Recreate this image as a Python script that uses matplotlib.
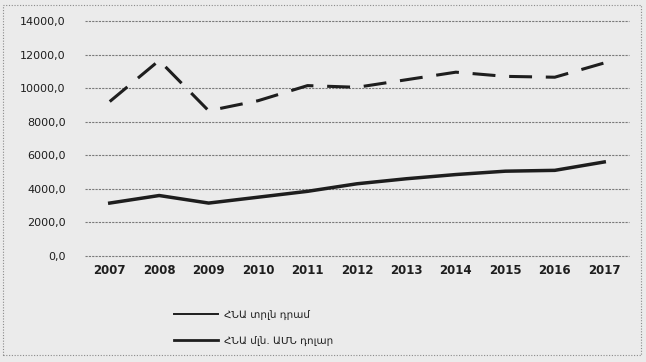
import matplotlib
matplotlib.use("Agg")
from matplotlib import pyplot as plt
from matplotlib.lines import Line2D
from matplotlib.patches import Rectangle
from matplotlib.ticker import FuncFormatter

# GDP series, 2007-2017
years = ["2007", "2008", "2009", "2010", "2011", "2012",
         "2013", "2014", "2015", "2016", "2017"]
gdp_usd = [9200, 11650, 8650, 9250, 10150, 10050, 10500, 10950, 10700, 10650, 11500]
gdp_amd = [3150, 3600, 3150, 3500, 3850, 4300, 4600, 4850, 5050, 5100, 5600]
labels = ["ՀՆԱ տրլն դրամ", "ՀՆԱ մլն. ԱՄՆ դոլար"]

bg = "#ebebeb"
ink = "#1e1e1e"

fig = plt.figure(figsize=(6.46, 3.62), dpi=100, facecolor=bg)
ax = fig.add_axes([0.1316, 0.293, 0.842, 0.649], facecolor=bg)

x = range(len(years))
ax.plot(x, gdp_usd, color=ink, lw=2.2, linestyle=(0, (7.5, 4.5)), solid_capstyle="butt")
ax.plot(x, gdp_amd, color=ink, lw=2.5, solid_joinstyle="round")

ax.set_xlim(-0.5, len(years) - 0.5)
ax.set_ylim(0, 14000)
ax.set_yticks(range(0, 14001, 2000))
ax.yaxis.set_major_formatter(FuncFormatter(lambda v, p: f"{v:.1f}".replace(".", ",")))
ax.set_xticks(list(x))
ax.set_xticklabels(years)
ax.grid(axis="y", color="#7a7a7a", lw=0.8, linestyle=(0, (2, 1)))
ax.set_axisbelow(True)
for g in ax.get_ygridlines():
    g.set_clip_on(False)
for s in ax.spines.values():
    s.set_visible(False)
ax.tick_params(length=0, colors=ink)
ax.tick_params(axis="y", labelsize=8, pad=14)
ax.tick_params(axis="x", labelsize=8.5, pad=6)
for t in ax.get_xticklabels():
    t.set_fontweight("bold")

# legend rows below the plot
handles = [Line2D([], [], color=ink, lw=1.4), Line2D([], [], color=ink, lw=2.0)]
fig.legend(handles, labels, loc="upper left", bbox_to_anchor=(0.255, 0.17),
           frameon=False, fontsize=7.5, handlelength=4.2, handletextpad=0.6,
           labelspacing=1.5, labelcolor=ink)

# dotted frame round the chart
fig.add_artist(Rectangle((0.005, 0.02), 0.988, 0.965, transform=fig.transFigure,
                         fill=False, edgecolor="#8a8a8a", lw=0.8, linestyle=(0, (1, 1.5))))

fig.savefig("out.png", dpi=100, facecolor=bg)
